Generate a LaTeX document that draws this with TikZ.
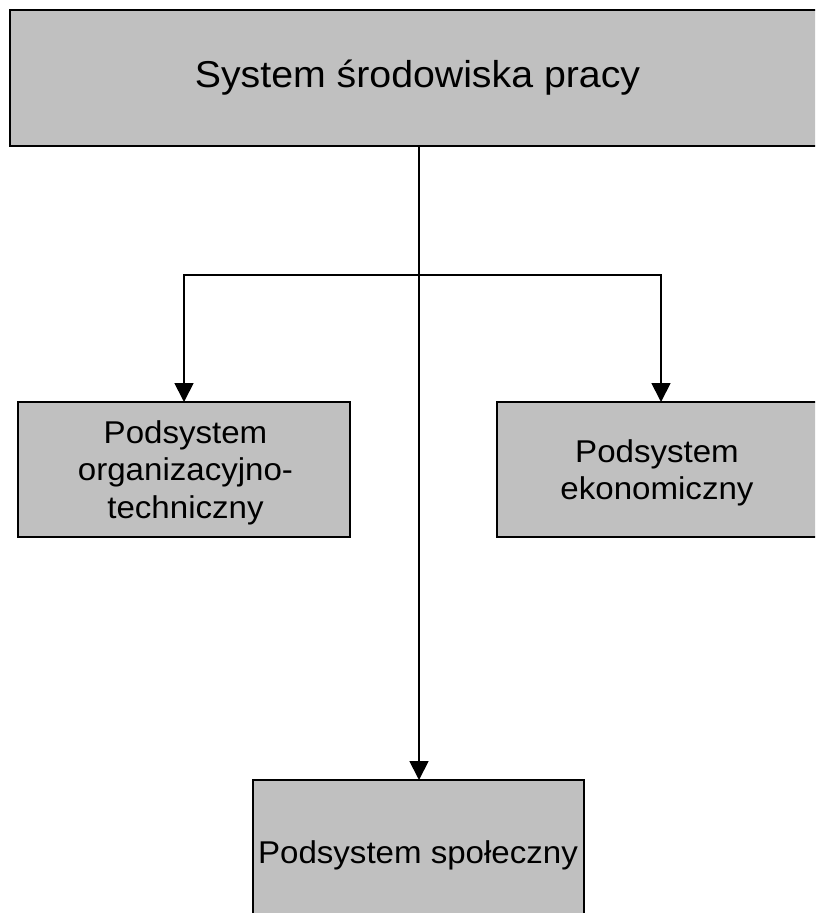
\documentclass[tikz,border=0pt]{standalone}
\usepackage{fontspec}
\setmainfont[FakeStretch=1.05]{Liberation Sans}
\usetikzlibrary{arrows.meta}
\begin{document}
\begin{tikzpicture}[x=1pt,y=-1pt,
  box/.style={draw=black,line width=1.6pt,fill=boxgray,inner sep=0pt,outer sep=0pt},
  txt/.style={inner sep=0pt,outer sep=0pt,align=center},
  arr/.style={line width=1.8pt,-{Triangle[length=19pt,width=19pt]}},
  bigtext/.style={font=\fontsize{37.4}{44}\selectfont},
  smalltext/.style={font=\fontsize{31.5}{37.5}\selectfont}]
\definecolor{boxgray}{HTML}{C0C0C0}
\useasboundingbox (0,0) rectangle (815,913);
\clip (0,0) rectangle (815,913);
\node[box,minimum width=816pt,minimum height=136pt] (top) at (418,78) {};
\node[box,minimum width=332pt,minimum height=135pt] (left) at (184,469.5) {};
\node[box,minimum width=320pt,minimum height=135pt] (right) at (657,469.5) {};
\node[box,minimum width=331pt,minimum height=145pt] (bot) at (418.5,852.5) {};
\node[txt,bigtext] (toptext) at (417.5,77.3) {System środowiska pracy};
\node[txt,smalltext] (lefttext) at (185.5,472.8) {Podsystem\\organizacyjno-\\techniczny};
\node[txt,smalltext] (righttext) at (657,472.8) {Podsystem\\ekonomiczny};
\node[txt,smalltext] (bottext) at (418,855.8) {Podsystem społeczny};
\coordinate (j) at (419,275);
\coordinate (jr) at (661,275);
\draw[arr] (top.south -| j) -- (bot.north -| j);
\draw[arr] (j) -| (left.north);
\draw[arr] (j) -- (jr) -- (right.north -| jr);
\end{tikzpicture}
\end{document}
